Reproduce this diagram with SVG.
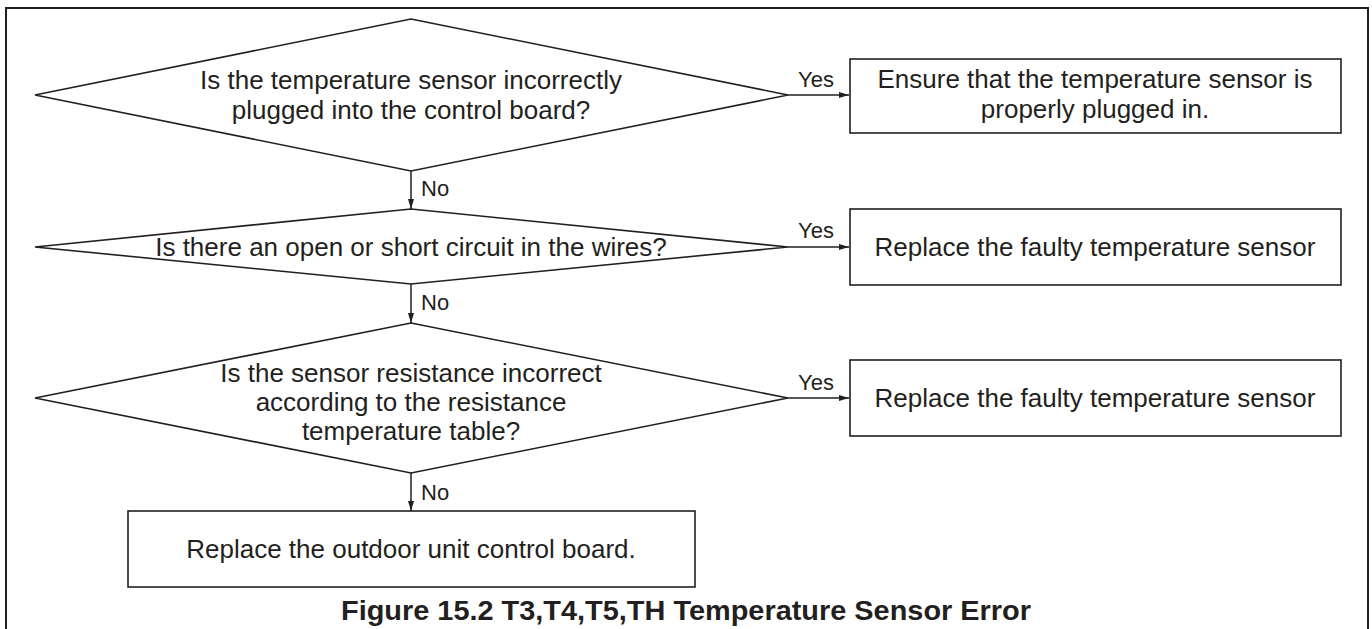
<svg xmlns="http://www.w3.org/2000/svg" width="1372" height="629" viewBox="0 0 1372 629">
<style>
.shape{fill:#fff;stroke:#231f20;stroke-width:1.6}
.frame{fill:none;stroke:#231f20;stroke-width:2}
.t{font-family:"Liberation Sans",Arial,sans-serif;font-size:26px;fill:#231f20;text-anchor:middle}
.lbl{font-family:"Liberation Sans",Arial,sans-serif;font-size:22px;fill:#231f20}
.cap{font-family:"Liberation Sans",Arial,sans-serif;font-size:27px;font-weight:bold;fill:#231f20;text-anchor:middle}
.c{fill:none;stroke:#231f20;stroke-width:1.5}
</style>
<defs>
<marker id="ah" viewBox="0 0 10 6" refX="10" refY="3" markerWidth="10" markerHeight="6" markerUnits="userSpaceOnUse" orient="auto">
<path d="M0,0 L10,3 L0,6 Z" fill="#231f20"/>
</marker>
</defs>
<rect width="1372" height="629" fill="#fff"/>
<path class="frame" d="M6,640 L6,8 L1368,8 L1368,640"/>

<g id="d1">
<polygon class="shape" points="411,19 788,95 411,171 35,95"/>
<text class="t" x="411" y="89">Is the temperature sensor incorrectly</text>
<text class="t" x="411" y="119">plugged into the control board?</text>
</g>
<g id="b1">
<rect class="shape" x="850" y="59" width="491" height="74"/>
<text class="t" x="1095" y="88">Ensure that the temperature sensor is</text>
<text class="t" x="1095" y="118">properly plugged in.</text>
</g>
<g id="d2">
<polygon class="shape" points="411,209 788,247 411,284 35,247"/>
<text class="t" x="411" y="256">Is there an open or short circuit in the wires?</text>
</g>
<g id="b2">
<rect class="shape" x="850" y="209" width="491" height="76"/>
<text class="t" x="1095" y="256">Replace the faulty temperature sensor</text>
</g>
<g id="d3">
<polygon class="shape" points="411,323 788,398 411,473 35,398"/>
<text class="t" x="411" y="382">Is the sensor resistance incorrect</text>
<text class="t" x="411" y="411">according to the resistance</text>
<text class="t" x="411" y="440">temperature table?</text>
</g>
<g id="b3">
<rect class="shape" x="850" y="360" width="491" height="76"/>
<text class="t" x="1095" y="407">Replace the faulty temperature sensor</text>
</g>
<g id="b4">
<rect class="shape" x="128" y="511" width="567" height="76"/>
<text class="t" x="411" y="558">Replace the outdoor unit control board.</text>
</g>

<g id="connectors">
<line class="c" x1="788" y1="95" x2="849" y2="95" marker-end="url(#ah)"/>
<line class="c" x1="788" y1="247" x2="849" y2="247" marker-end="url(#ah)"/>
<line class="c" x1="788" y1="398" x2="849" y2="398" marker-end="url(#ah)"/>
<line class="c" x1="411" y1="171" x2="411" y2="209" marker-end="url(#ah)"/>
<line class="c" x1="411" y1="284" x2="411" y2="323" marker-end="url(#ah)"/>
<line class="c" x1="411" y1="473" x2="411" y2="511" marker-end="url(#ah)"/>
<text class="lbl" x="798" y="87">Yes</text>
<text class="lbl" x="798" y="238">Yes</text>
<text class="lbl" x="798" y="390">Yes</text>
<text class="lbl" x="421" y="196">No</text>
<text class="lbl" x="421" y="310">No</text>
<text class="lbl" x="421" y="500">No</text>
</g>

<text class="cap" x="686" y="620" textLength="690" lengthAdjust="spacingAndGlyphs">Figure 15.2 T3,T4,T5,TH Temperature Sensor Error</text>
</svg>
